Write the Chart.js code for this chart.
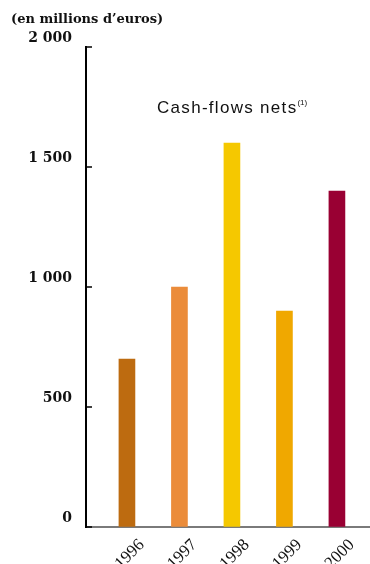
<!DOCTYPE html>
<html>
<head>
<meta charset="utf-8">
<script src="https://cdn.jsdelivr.net/npm/chart.js@4/dist/chart.umd.min.js"></script>
<style>
  html, body { margin: 0; padding: 0; background: #fff; }
  #wrap { position: relative; width: 370px; height: 564px; }
  #unit { position: absolute; left: 11px; top: 11px; font: bold 13px "DejaVu Serif", serif; color: #111; }
  #label { position: absolute; left: 157px; top: 98px; font: 17px "Liberation Sans", Arial, sans-serif; letter-spacing: 1.3px; color: #111; }
  #label sup { font-size: 8px; letter-spacing: 0; vertical-align: 8px; }
</style>
</head>
<body>
<div id="wrap">
  <canvas id="c" width="370" height="564"></canvas>
  <div id="unit">(en millions d’euros)</div>
  <div id="label">Cash-flows nets<sup>(1)</sup></div>
</div>
<script>
// data
const years = [1996, 1997, 1998, 1999, 2000];
const cashFlows = [700, 1000, 1600, 900, 1400];
const barColors = ["#bd6b10", "#eb8c3a", "#f5c800", "#f0a800", "#990033"];
const yTicks = [0, 500, 1000, 1500, 2000];

const fmt = v => String(v).replace(/\B(?=(\d{3})+(?!\d))/g, " ");

// short tick marks drawn inward from the y axis
const innerTicks = {
    id: "innerTicks",
    afterDraw(chart) {
        const y = chart.scales.y;
        const ctx = chart.ctx;
        ctx.save();
        ctx.strokeStyle = "#000";
        ctx.lineWidth = 1.5;
        y.ticks.forEach(t => {
            const py = y.getPixelForValue(t.value);
            ctx.beginPath();
            ctx.moveTo(chart.chartArea.left, py);
            ctx.lineTo(chart.chartArea.left + 6, py);
            ctx.stroke();
        });
        ctx.restore();
    }
};

new Chart(document.getElementById("c"), {
    type: "bar",
    data: {
        datasets: [{
            data: years.map((yr, i) => ({ x: yr, y: cashFlows[i] })),
            backgroundColor: barColors,
            barThickness: 16
        }]
    },
    options: {
        responsive: false,
        animation: false,
        layout: { padding: { top: 47, left: 0, right: 0, bottom: 0 } },
        plugins: { legend: { display: false }, tooltip: { enabled: false } },
        scales: {
            x: {
                type: "linear",
                offset: false,
                min: 1995.22,
                max: 2000.63,
                afterBuildTicks: s => { s.ticks = years.map(v => ({ value: v })); },
                afterFit: s => { s.height = 37; },
                grid: { display: false },
                border: { display: true, color: "#7a7a7a", width: 2 },
                ticks: {
                    minRotation: 45,
                    maxRotation: 45,
                    labelOffset: 15,
                    padding: 0,
                    color: "#111",
                    font: { family: "'Liberation Serif', serif", size: 17 },
                    callback: v => String(v)
                }
            },
            y: {
                min: 0,
                max: 2000,
                afterBuildTicks: s => { s.ticks = yTicks.map(v => ({ value: v })); },
                afterFit: s => { s.width = 86; },
                grid: { drawOnChartArea: false, drawTicks: false },
                border: { display: true, color: "#000", width: 2 },
                ticks: {
                    padding: 14,
                    labelOffset: -9,
                    color: "#111",
                    font: { family: "'DejaVu Serif', serif", size: 14, weight: "bold" },
                    callback: v => fmt(v)
                }
            }
        }
    },
    plugins: [innerTicks]
});
</script>
</body>
</html>
